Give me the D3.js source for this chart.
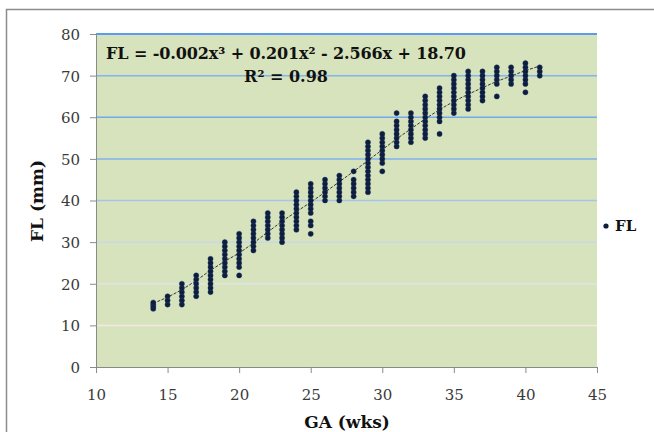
<!DOCTYPE html>
<html>
<head>
<meta charset="utf-8">
<script src="https://cdn.jsdelivr.net/npm/d3@7"></script>
<style>
  body { margin: 0; background: #fff; }
  svg { display: block; }
</style>
</head>
<body>
<svg id="chart" width="654" height="432"></svg>
<script>
// gestational age (weeks) and femur length readings (mm) for each week
var weeks = [14, 15, 16, 17, 18, 19, 20, 21, 22, 23, 24, 25, 26, 27,
             28, 29, 30, 31, 32, 33, 34, 35, 36, 37, 38, 39, 40, 41];
var flByWeek = [
    [14, 14.5, 15, 15.5],
    [15, 16, 17],
    [15, 16, 17, 18, 19, 20],
    [17, 18, 19, 20, 21, 22],
    [18, 19, 20, 21, 22, 23, 24, 25, 26],
    [22, 23, 24, 25, 26, 27, 28, 29, 30],
    [22, 24, 25, 26, 27, 28, 29, 30, 31, 32],
    [28, 29, 30, 31, 32, 33, 34, 35],
    [31, 32, 33, 34, 35, 36, 37],
    [30, 31, 32, 33, 34, 35, 36, 37],
    [33, 34, 35, 36, 37, 38, 39, 40, 41, 42],
    [32, 34, 35, 37, 38, 39, 40, 41, 42, 43, 44],
    [40, 41, 42, 43, 44, 45],
    [40, 41, 42, 43, 44, 45, 46],
    [41, 42, 43, 44, 45, 47],
    [42, 43, 44, 45, 46, 47, 48, 49, 50, 51, 52, 53, 54],
    [47, 49, 50, 51, 52, 53, 54, 55, 56],
    [53, 54, 55, 56, 57, 58, 59, 61],
    [54, 55, 56, 57, 58, 59, 60, 61],
    [55, 56, 57, 58, 59, 60, 61, 62, 63, 64, 65],
    [56, 59, 60, 61, 62, 63, 64, 65, 66, 67],
    [61, 62, 63, 64, 65, 66, 67, 68, 69, 70],
    [62, 63, 64, 65, 66, 67, 68, 69, 70, 71],
    [64, 65, 66, 67, 68, 69, 70, 71],
    [65, 68, 69, 70, 71, 72],
    [68, 69, 70, 71, 72],
    [66, 68, 69, 70, 71, 72, 73],
    [70, 71, 72]
];
// trend line, one value per week
var trendFL = [15.3, 16.8, 18.6, 20.8, 23.2, 25.4, 27.4, 29.8, 32.4, 35, 37.3, 39.6, 42, 44.5,
               47, 49.6, 52.2, 54.8, 57.2, 59.6, 61.8, 63.8, 65.5, 67.1, 68.6, 69.9, 71.2, 72.3];
var xTicks = [10, 15, 20, 25, 30, 35, 40, 45];
var yTicks = [0, 10, 20, 30, 40, 50, 60, 70, 80];
var gridColors = ["#f2e9e6", "#dfe3e7", "#c8d8e8", "#a3c5ec", "#7fb2ee", "#70aaf0", "#80b5ee", "#5b9cf1"];

var svg = d3.select("#chart");
var serif = "'DejaVu Serif', serif";

// outer chart frame
svg.append("path")
    .attr("d", "M6.5,432 L6.5,9.5 L654,9.5")
    .attr("fill", "none")
    .attr("stroke", "#8c8c8c")
    .attr("stroke-width", 1.5);

var plot = { left: 96, right: 597, top: 34, bottom: 367 };
var x = d3.scaleLinear().domain([10, 45]).range([plot.left, plot.right]);
var y = d3.scaleLinear().domain([0, 80]).range([plot.bottom, plot.top]);

svg.append("rect")
    .attr("x", plot.left)
    .attr("y", plot.top)
    .attr("width", plot.right - plot.left)
    .attr("height", plot.bottom - plot.top)
    .attr("fill", "#d7e3bd");

svg.append("g").selectAll("line")
    .data(yTicks.slice(1))
    .enter().append("line")
    .attr("x1", plot.left)
    .attr("x2", plot.right)
    .attr("y1", function (d) { return y(d); })
    .attr("y2", function (d) { return y(d); })
    .attr("stroke", function (d, i) { return gridColors[i]; })
    .attr("stroke-width", function (d) { return d === 80 ? 2 : 1.5; });

var xAxis = svg.append("g")
    .attr("transform", "translate(0," + plot.bottom + ")")
    .call(d3.axisBottom(x).tickValues(xTicks).tickSize(6).tickPadding(16));
var yAxis = svg.append("g")
    .attr("transform", "translate(" + plot.left + ",0)")
    .call(d3.axisLeft(y).tickValues(yTicks).tickSize(6).tickPadding(10));
[xAxis, yAxis].forEach(function (a) {
    a.select(".domain").attr("stroke", "#8a8a8a");
    a.selectAll(".tick line").attr("stroke", "#8a8a8a");
    a.selectAll(".tick text")
        .style("font-family", serif)
        .style("font-size", "15px")
        .attr("fill", "#3a3a3a");
});
yAxis.selectAll(".tick text").attr("dy", "0.36em");

// trend line
var line = d3.line()
    .x(function (d, i) { return x(weeks[i]); })
    .y(function (d) { return y(d); })
    .curve(d3.curveMonotoneX);
svg.append("path")
    .datum(trendFL)
    .attr("d", line)
    .attr("fill", "none")
    .attr("stroke", "#222")
    .attr("stroke-width", 0.9)
    .attr("stroke-dasharray", "3,1.5");

// points
var points = [];
weeks.forEach(function (w, i) {
    flByWeek[i].forEach(function (v) { points.push({ ga: w, fl: v }); });
});
svg.append("g").selectAll("circle")
    .data(points)
    .enter().append("circle")
    .attr("cx", function (d) { return x(d.ga); })
    .attr("cy", function (d) { return y(d.fl); })
    .attr("r", 2.6)
    .attr("fill", "#0f1d3c")
    .attr("stroke", "#1d3a6a")
    .attr("stroke-width", 0.4);

// equation
svg.append("text")
    .attr("x", 286)
    .attr("y", 59)
    .attr("text-anchor", "middle")
    .attr("textLength", 360)
    .style("font-family", serif)
    .style("font-weight", "bold")
    .style("font-size", "16px")
    .attr("fill", "#111")
    .text("FL = -0.002x\u00B3 + 0.201x\u00B2 - 2.566x + 18.70");
svg.append("text")
    .attr("x", 286)
    .attr("y", 82)
    .attr("text-anchor", "middle")
    .style("font-family", serif)
    .style("font-weight", "bold")
    .style("font-size", "16px")
    .attr("fill", "#111")
    .text("R\u00B2 = 0.98");

// axis titles
svg.append("text")
    .attr("transform", "translate(43,201) rotate(-90)")
    .attr("text-anchor", "middle")
    .style("font-family", serif)
    .style("font-weight", "bold")
    .style("font-size", "17px")
    .attr("fill", "#111")
    .text("FL (mm)");
svg.append("text")
    .attr("x", 347)
    .attr("y", 428)
    .attr("text-anchor", "middle")
    .style("font-family", serif)
    .style("font-weight", "bold")
    .style("font-size", "17px")
    .attr("fill", "#111")
    .text("GA (wks)");

// legend
svg.append("circle")
    .attr("cx", 606)
    .attr("cy", 226)
    .attr("r", 2.6)
    .attr("fill", "#0f1d3c");
svg.append("text")
    .attr("x", 615)
    .attr("y", 231)
    .style("font-family", serif)
    .style("font-weight", "bold")
    .style("font-size", "15px")
    .attr("fill", "#111")
    .text("FL");
</script>
</body>
</html>
